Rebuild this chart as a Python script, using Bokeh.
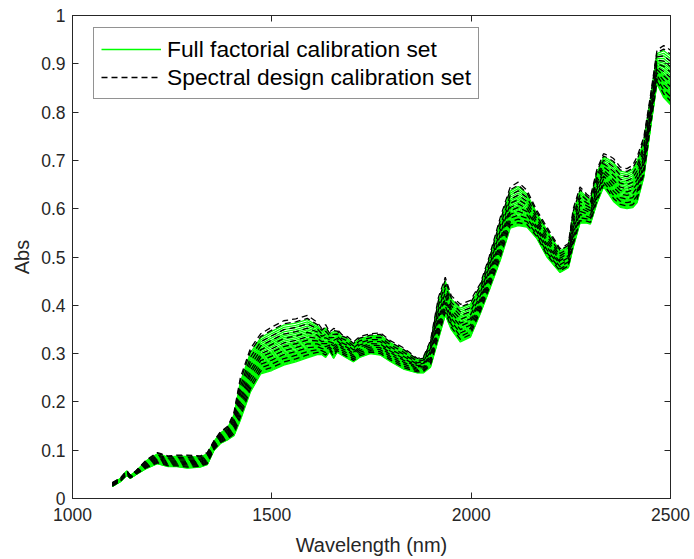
import numpy as np
from bokeh.plotting import figure
from bokeh.models import (Range1d, LinearAxis, FixedTicker, CustomJSTickFormatter,
                          Legend, LegendItem)
from bokeh.embed import file_html
from bokeh.resources import INLINE

# ---- data ----
wavelength = [1100, 1120, 1136, 1145, 1160, 1185, 1213, 1240, 1262, 1288, 1320, 1338,
              1355, 1371, 1390, 1405, 1421, 1446, 1472, 1500, 1530, 1560, 1589, 1614,
              1625, 1635, 1645, 1655, 1664, 1675, 1690, 1705, 1720, 1747, 1772, 1797,
              1830, 1865, 1880, 1898, 1918, 1935, 1950, 1973, 1998, 2023, 2045, 2073,
              2098, 2118, 2140, 2165, 2190, 2223, 2244, 2256, 2273, 2290, 2299, 2315,
              2332, 2345, 2357, 2374, 2391, 2405, 2416, 2433, 2449, 2466, 2483, 2500]

# upper edge of the bundle of spectra
abs_high = [0.033, 0.042, 0.058, 0.048, 0.058, 0.080, 0.095, 0.088, 0.090, 0.090, 0.088, 0.095,
            0.120, 0.138, 0.150, 0.178, 0.250, 0.310, 0.341, 0.355, 0.368, 0.372, 0.379, 0.365,
            0.352, 0.360, 0.345, 0.352, 0.350, 0.340, 0.335, 0.324, 0.335, 0.341, 0.343, 0.327,
            0.312, 0.290, 0.293, 0.327, 0.417, 0.458, 0.420, 0.402, 0.410, 0.445, 0.500, 0.582,
            0.645, 0.655, 0.638, 0.596, 0.562, 0.517, 0.528, 0.600, 0.645, 0.630, 0.624, 0.680,
            0.714, 0.710, 0.704, 0.686, 0.683, 0.690, 0.707, 0.748, 0.830, 0.928, 0.938, 0.928]

# lower edge of the bundle of spectra
abs_low = [0.025, 0.035, 0.048, 0.042, 0.050, 0.062, 0.072, 0.066, 0.066, 0.063, 0.065, 0.070,
           0.100, 0.114, 0.122, 0.130, 0.162, 0.220, 0.258, 0.265, 0.276, 0.283, 0.291, 0.298,
           0.298, 0.292, 0.304, 0.290, 0.303, 0.297, 0.290, 0.283, 0.292, 0.300, 0.297, 0.284,
           0.268, 0.260, 0.260, 0.272, 0.330, 0.380, 0.350, 0.324, 0.334, 0.383, 0.430, 0.493,
           0.560, 0.565, 0.562, 0.538, 0.500, 0.468, 0.478, 0.520, 0.570, 0.570, 0.568, 0.610,
           0.645, 0.630, 0.615, 0.603, 0.600, 0.602, 0.612, 0.665, 0.762, 0.859, 0.830, 0.815]

# relative position of each spectrum inside the bundle (0 = lowest, 1 = highest)
full_factorial_pos = [0.00, 0.02, 0.04, 0.06, 0.08, 0.10, 0.12, 0.14, 0.16, 0.18, 0.20,
                      0.22, 0.25, 0.28, 0.31, 0.34, 0.37, 0.40, 0.43, 0.46, 0.50, 0.54,
                      0.58, 0.62, 0.66, 0.70, 0.75, 0.80, 0.85, 0.90]
spectral_design_pos = [1.00, 0.93, 0.80, 0.70, 0.60, 0.50, 0.42, 0.33, 0.24, 0.15, 0.07]

x_ticks = [1000, 1500, 2000, 2500]
y_ticks = [0, 0.1, 0.2, 0.3, 0.4, 0.5, 0.6, 0.7, 0.8, 0.9, 1.0]

x_label = "Wavelength (nm)"
y_label = "Abs"
series_names = ["Full factorial calibration set", "Spectral design calibration set"]

# ---- build curves ----
lo = np.array(abs_low)
hi = np.array(abs_high)
green_ys = [list(lo + f * (hi - lo)) for f in full_factorial_pos]
green_xs = [wavelength] * len(green_ys)
dash_ys = [list(lo + f * (hi - lo)) for f in spectral_design_pos]
dash_xs = [wavelength] * len(dash_ys)

FONT = "Liberation Sans"
AX = "#262626"

p = figure(width=694, height=559, output_backend="svg", toolbar_location=None,
           x_range=Range1d(1000, 2500), y_range=Range1d(0, 1),
           min_border_left=72, min_border_right=24, min_border_top=15, min_border_bottom=61)
p.background_fill_color = "white"
p.border_fill_color = "white"
p.xgrid.visible = False
p.ygrid.visible = False
p.outline_line_color = AX
p.outline_line_width = 1

g = p.multi_line(green_xs, green_ys, line_color="#00ff00", line_width=1.3)
d = p.multi_line(dash_xs, dash_ys, line_color="black", line_width=1.3, line_dash="6 4")

fmt = CustomJSTickFormatter(code="return Number(tick.toFixed(2)).toString();")

for ax in [p.xaxis[0], p.yaxis[0]]:
    ax.major_tick_in = 6
    ax.major_tick_out = 0
    ax.minor_tick_in = 0
    ax.minor_tick_out = 0
    ax.axis_line_color = AX
    ax.major_tick_line_color = AX
    ax.major_label_text_font = FONT
    ax.major_label_text_font_size = "17.5px"
    ax.major_label_text_color = AX
    ax.axis_label_text_font = FONT
    ax.axis_label_text_font_size = "20px"
    ax.axis_label_text_font_style = "normal"
    ax.axis_label_text_color = AX

p.xaxis[0].ticker = FixedTicker(ticks=x_ticks)
p.yaxis[0].ticker = FixedTicker(ticks=y_ticks)
p.yaxis[0].formatter = fmt
p.xaxis[0].axis_label = x_label
p.yaxis[0].axis_label = y_label
p.xaxis[0].major_label_standoff = 9
p.xaxis[0].axis_label_standoff = 10
p.yaxis[0].major_label_standoff = 7
p.yaxis[0].axis_label_standoff = 5

# mirrored ticks on top and right (no labels)
top_ax = LinearAxis(ticker=FixedTicker(ticks=x_ticks), major_tick_in=6, major_tick_out=0,
                    minor_tick_in=0, minor_tick_out=0, axis_line_color=AX,
                    major_tick_line_color=AX, major_label_text_color=None,
                    major_label_standoff=0)
right_ax = LinearAxis(ticker=FixedTicker(ticks=y_ticks), major_tick_in=6, major_tick_out=0,
                      minor_tick_in=0, minor_tick_out=0, axis_line_color=AX,
                      major_tick_line_color=AX, major_label_text_color=None,
                      major_label_standoff=0)
p.add_layout(top_ax, "above")
p.add_layout(right_ax, "right")

legend = Legend(items=[LegendItem(label=series_names[0], renderers=[g]),
                       LegendItem(label=series_names[1], renderers=[d])],
                location=(21, 399))
legend.label_text_font = FONT
legend.label_text_font_size = "22.8px"
legend.label_text_color = "black"
legend.glyph_width = 60
legend.glyph_height = 28
legend.label_height = 28
legend.label_standoff = 6
legend.padding = 7
legend.spacing = 0
legend.margin = 0
legend.border_line_color = AX
legend.border_line_width = 1
legend.background_fill_color = "white"
legend.background_fill_alpha = 1
p.add_layout(legend, "center")

open("out.html", "w").write(file_html(p, INLINE))
